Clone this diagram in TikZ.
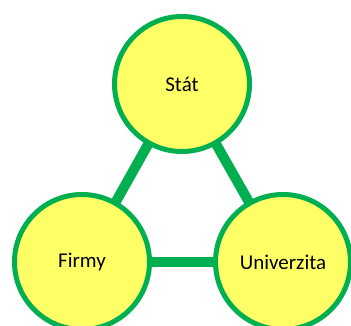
\documentclass[tikz,border=0pt]{standalone}
\usepackage{fontspec}
\setmainfont{Carlito}
\usetikzlibrary{backgrounds}
\definecolor{ofgreen}{RGB}{0,176,80}
\definecolor{ofyellow}{RGB}{255,255,102}
\begin{document}
\begin{tikzpicture}[x=1pt,y=-1pt,
   actor/.style={circle,draw=ofgreen,line width=5pt,fill=ofyellow,
     minimum size=135pt,inner sep=0pt,font=\fontsize{21}{24}\selectfont},
   link/.style={ofgreen,line width=10pt}]
   \useasboundingbox (0,0) rectangle (351,326);
   \node[actor] (stat) at (182,84) {Stát};
   \node[actor] (firmy) at (82,262) {Firmy};
   \node[actor] (univ) at (283,262) {Univerzita};
   \begin{pgfonlayer}{background}
    \draw[link] (stat.center) -- (firmy.center);
    \draw[link] (stat.center) -- (univ.center);
    \draw[link] (firmy.center) -- (univ.center);
   \end{pgfonlayer}
  \end{tikzpicture}
\end{document}
